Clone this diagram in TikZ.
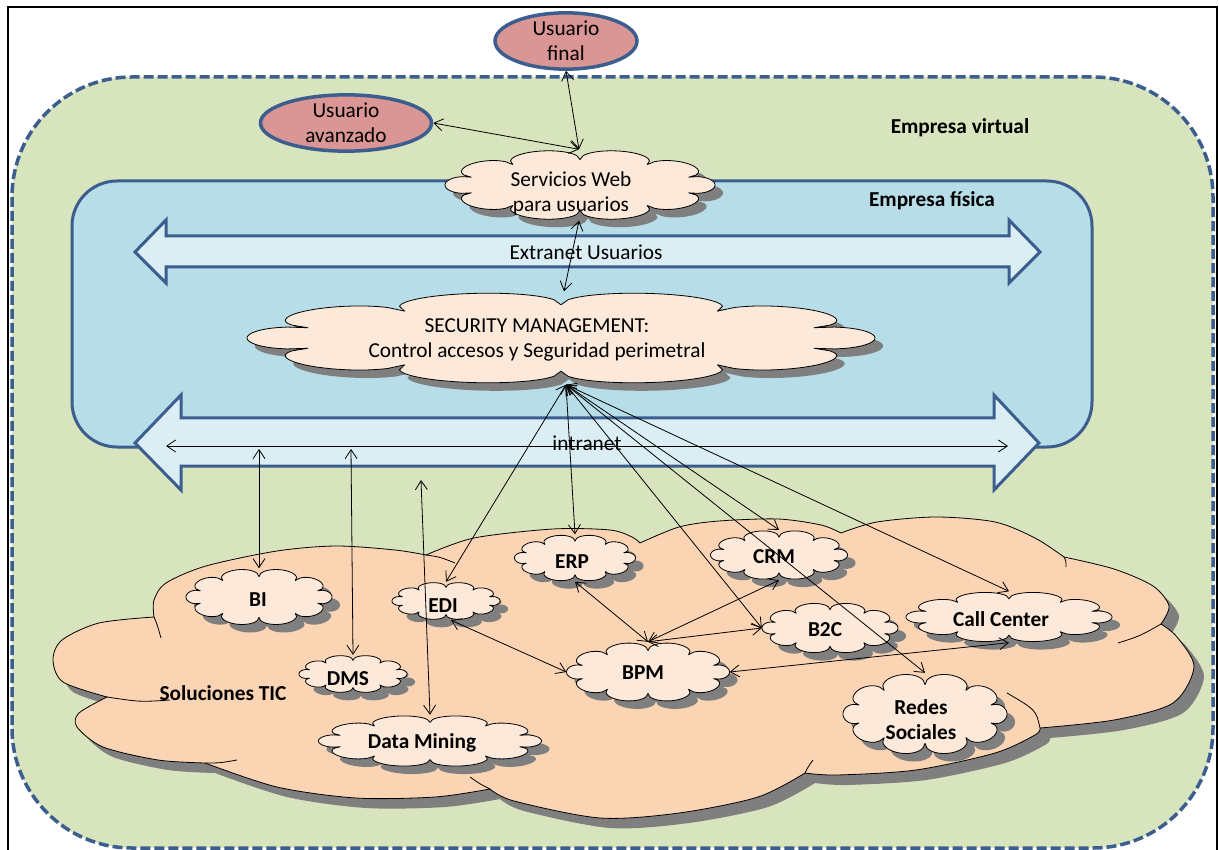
\documentclass[tikz,border=0pt]{standalone}
\usepackage{fontspec}
\setmainfont{Carlito}
\usetikzlibrary{shapes.geometric,arrows.meta,calc}

\definecolor{virtualgreen}{HTML}{D7E4BD}
\definecolor{frameblue}{HTML}{3B5E8F}
\definecolor{physblue}{HTML}{B7DDE8}
\definecolor{netblue}{HTML}{DBEEF4}
\definecolor{userpink}{HTML}{D99694}
\definecolor{cloudpeach}{HTML}{FDE9D9}
\definecolor{ticpeach}{HTML}{FBD4B4}
\definecolor{shadowgray}{HTML}{7F7F7F}

% outline of the large "Soluciones TIC" cloud
\tikzset{
  ticcloud/.pic={
    \path[pic actions] (107,697)
      -- plot[smooth] coordinates {(107,697) (63,682) (53,660) (62,640) (99,623) (154,617)}
      -- plot[smooth] coordinates {(154,617) (154,600) (166,583) (206,566) (277,551) (336,546) (395,550) (426,555)}
      -- plot[smooth] coordinates {(426,555) (474,538) (553,529) (610,530) (632,537) (640,543)}
      -- plot[smooth] coordinates {(640,543) (679,527) (719,521) (778,519) (821,525) (841,533)}
      -- plot[smooth] coordinates {(841,533) (877,522) (936,517) (995,522) (1035,538) (1064,557)}
      -- plot[smooth] coordinates {(1064,557) (1114,569) (1153,586) (1169,606) (1161,624)}
      -- plot[smooth] coordinates {(1161,624) (1177,637) (1194,667) (1173,703) (1114,720) (1040,728)}
      -- plot[smooth] coordinates {(1040,728) (1035,735) (995,753) (916,770) (837,775) (805,773)}
      -- plot[smooth] coordinates {(805,773) (758,797) (679,813) (600,818) (514,801) (490,789)}
      -- plot[smooth] coordinates {(490,789) (435,797) (356,798) (277,787) (205,763)}
      -- plot[smooth] coordinates {(205,763) (158,760) (103,747) (77,727) (79,713) (107,697)}
      -- cycle;
  },
  declare function={puffbump(\t)=2*sqrt(abs(mod((\t+18)/36,1)*(1-mod((\t+18)/36,1))));}
}

% puffy cloud with drop shadow and a named elliptic node on top
% #1 name, #2 cx, #3 cy, #4 width, #5 height, #6 text style, #7 text, #8 text offset
\newcommand\puffnode[8]{%
  \pgfmathsetmacro\prx{#4/2/1.18}%
  \pgfmathsetmacro\pry{#5/2/1.40}%
  \fill[shadowgray] plot[domain=-18:342,samples=241,variable=\t]
    ({#2+8+\prx*(1+0.18*puffbump(\t))*cos(\t)},{#3+8+\pry*(1+0.40*puffbump(\t))*sin(\t)}) -- cycle;
  \draw[black, line width=0.8pt, fill=cloudpeach, line join=round] plot[domain=-18:342,samples=241,variable=\t]
    ({#2+\prx*(1+0.18*puffbump(\t))*cos(\t)},{#3+\pry*(1+0.40*puffbump(\t))*sin(\t)}) -- cycle;
  \node[ellipse, minimum width=#4pt, minimum height=#5pt, inner sep=0pt,
        label={[#6, #8]center:#7}] (#1) at (#2,#3) {};
}

\begin{document}
\begin{tikzpicture}[x=1pt,y=-1pt,
  txt/.style={font=\fontsize{21.3}{25}\selectfont, align=center, inner sep=0pt},
  tagtxt/.style={font=\fontsize{21.3}{25}\selectfont\bfseries, align=center, inner sep=0pt},
  user/.style={ellipse, draw=frameblue, line width=3.5pt, fill=userpink, inner sep=0pt, txt},
  link/.style={<->, >={Straight Barb[length=9pt,width=12pt]}, line width=0.8pt, black},
  netarrow/.style={draw=frameblue, line width=3pt, fill=netblue, line join=miter},
]
\useasboundingbox (0,0) rectangle (1219,850);

% page frame
\draw[line width=2pt] (8,7) rectangle (1217,870);

% virtual enterprise
\draw[draw=frameblue, fill=virtualgreen, line width=3.5pt,
      dash pattern=on 10pt off 4pt, rounded corners=120pt] (12,77) rectangle (1213,848);

% physical enterprise
\draw[draw=frameblue, fill=physblue, line width=3pt, rounded corners=45pt]
  (72,181) rectangle (1092,447);

% extranet and intranet bands
\draw[netarrow] (135,252) -- (166,220) -- (166,236) -- (1009,236) -- (1009,220)
  -- (1040,252) -- (1009,283) -- (1009,267) -- (166,267) -- (166,283) -- cycle;
\draw[netarrow] (135,443) -- (181,395) -- (181,418) -- (994,418) -- (994,395)
  -- (1039,443) -- (994,490) -- (994,466) -- (181,466) -- (181,490) -- cycle;
\coordinate (inl) at (166,446);
\coordinate (inr) at (1008,446);
\coordinate (biport) at (259,449);
\coordinate (dmsport) at (351,449);
\coordinate (dmport) at (421,480);

% ICT solutions cloud
\pic[fill=shadowgray] at (10,10) {ticcloud};
\pic[draw=black, line width=0.8pt, fill=ticpeach] at (0,0) {ticcloud};
\begin{scope}[line width=0.8pt]
  \draw (154,617) .. controls (157,624) .. (161,638);
  \draw (107,697) .. controls (140,702) .. (170,700);
  \draw (205,763) .. controls (220,763) .. (237,760);
  \draw (490,789) .. controls (480,784) .. (470,777);
  \draw (805,773) .. controls (808,767) .. (813,760);
  \draw (1040,728) .. controls (1036,710) .. (1007,693);
  \draw (1161,624) .. controls (1140,636) .. (1118,643);
  \draw (1064,557) .. controls (1066,561) .. (1066,567);
  \draw (426,555) .. controls (440,557) .. (455,563);
\end{scope}

% web services and security clouds
\puffnode{sec}{561}{338}{628}{93}{txt}{SECURITY MANAGEMENT:\\Control accesos y Seguridad perimetral}{xshift=-24pt,yshift=-2pt}
\puffnode{sw}{580}{185}{270}{71}{txt}{Servicios Web\\para usuarios}{xshift=-9pt,yshift=-8pt}

% users
\node[user, minimum width=142pt, minimum height=51pt] (uf) at (566,41) {Usuario\\final};
\node[user, minimum width=171pt, minimum height=50pt] (ua) at (346,123) {Usuario\\avanzado};

% solutions
\puffnode{bi}{259}{597}{146}{57}{tagtxt}{BI}{xshift=-1pt,yshift=-3pt}
\puffnode{edi}{446}{601}{108}{38}{tagtxt}{EDI}{xshift=-3pt,yshift=-5pt}
\puffnode{dms}{353}{674}{108}{38}{tagtxt}{DMS}{xshift=-5pt,yshift=-5pt}
\puffnode{dm}{430}{741}{223}{52}{tagtxt}{Data Mining}{xshift=-8pt,yshift=-2pt}
\puffnode{erp}{575}{558}{121}{47}{tagtxt}{ERP}{xshift=-3pt,yshift=-4pt}
\puffnode{crm}{779}{555}{137}{50}{tagtxt}{CRM}{xshift=-5pt,yshift=-2pt}
\puffnode{b2c}{830}{628}{136}{51}{tagtxt}{B2C}{xshift=-5pt,yshift=-2pt}
\puffnode{cc}{1009}{617}{206}{51}{tagtxt}{Call Center}{xshift=-8pt,yshift=-2pt}
\puffnode{bpm}{648}{672}{163}{60}{tagtxt}{BPM}{xshift=-5pt,yshift=-1pt}
\puffnode{redes}{925}{714}{164}{82}{tagtxt}{Redes\\Sociales}{xshift=-4pt,yshift=-6pt}

% labels
\node[tagtxt] (virt) at (960,128) {Empresa virtual};
\node[tagtxt] (fis) at (932,201) {Empresa física};
\node[txt] (extr) at (586,252) {Extranet Usuarios};
\node[txt] (intr) at (587,443) {intranet};
\node[tagtxt] (tic) at (223,693) {Soluciones TIC};

% connections
\draw[link] (uf.south) -- ([xshift=-1pt]sw.north);
\draw[link] (ua.east) -- ([xshift=-1pt]sw.north);
\draw[link] ([xshift=-1pt]sw.south) -- ([xshift=3pt]sec.north);
\draw[link] (inl) -- (inr);
\draw[link] (biport) -- (bi.north);
\draw[link] (dmsport) -- (dms.north);
\draw[link] (dmport) -- (dm.north);
\coordinate (hub) at ([xshift=5pt]sec.south);
\draw[link] (hub) -- (edi.north);
\draw[link] (hub) -- (erp.north);
\draw[link] (hub) -- (b2c.west);
\draw[link] (hub) -- (crm.north);
\draw[link] (hub) -- (redes.north);
\draw[link] (hub) -- (cc.north);
\draw[link] (erp.south) -- (bpm.north);
\draw[link] (crm.south) -- (bpm.north);
\draw[link] (bpm.north) -- (b2c.west);
\draw[link] (cc.south) -- (bpm.east);
\draw[link] ([xshift=5pt]edi.south) -- (bpm.west);
\end{tikzpicture}
\end{document}
